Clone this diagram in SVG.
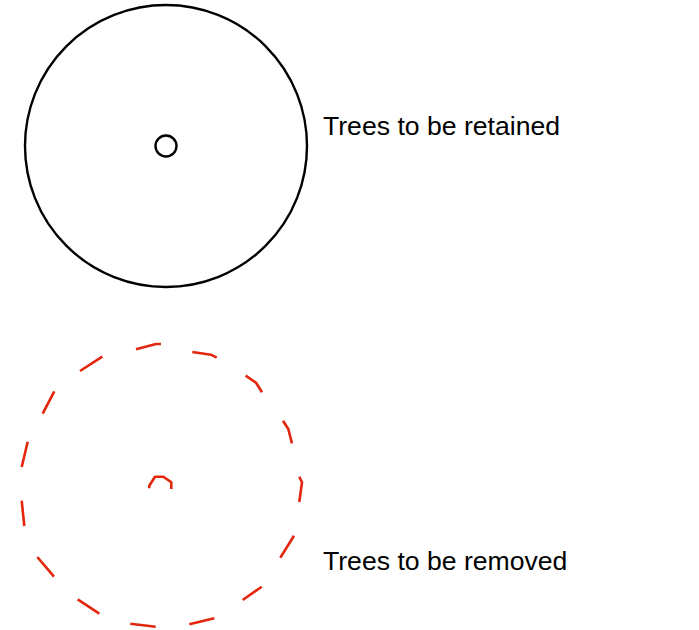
<svg xmlns="http://www.w3.org/2000/svg" width="699" height="630" viewBox="0 0 699 630">
<style>
.keep{fill:none;stroke:#000;stroke-width:2.4}
.rem{fill:none;stroke:#e3260e;stroke-width:2.6;stroke-linejoin:round;stroke-linecap:butt}
.lbl{font-family:"Liberation Sans",Arial,sans-serif;font-size:26.6px;fill:#000}
</style>
<rect width="699" height="630" fill="#fff"/>
<g id="retained">
<circle class="keep" cx="166" cy="146" r="141"/>
<circle class="keep" cx="166" cy="146" r="10.5" stroke-width="2.2"/>
<text class="lbl" x="323" y="135">Trees to be retained</text>
</g>
<g id="removed">
<path class="rem" d="M136,349.3 L156,344 L161,344 M192.3,352 L211,354.7 L216.7,357.7 M245.7,375.7 L256,382.7 L262,392.3 M283,420.7 L288.3,429 L292,443.3 M299.3,476.7 L302,482.3 L299.3,502 M294,535.7 L280.3,557.7 M261.7,586.7 L242.7,600 M214.3,618.3 L189.3,624.3 M155.7,626.7 L130.3,623.7 M99.3,613.7 L77.7,599.3 M54,576.7 L37.3,557 M24.3,526 L21.7,500.7 M21.7,467 L27.7,441.7 M42.7,413.7 L54.3,391.3 M80,371 L102.3,356.7"/>
<path class="rem" d="M149.3,488.3 L149.3,485.7 L155,476.7 L163.3,476.7 L171.3,482.3 L171.3,489"/>
<text class="lbl" x="323" y="570">Trees to be removed</text>
</g>
</svg>
